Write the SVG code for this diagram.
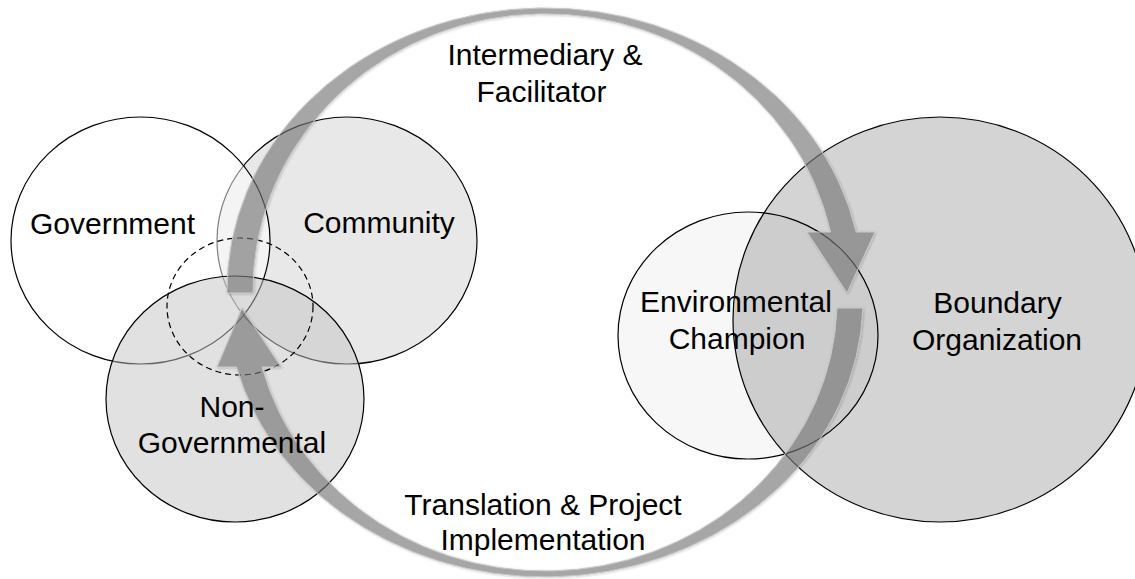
<svg xmlns="http://www.w3.org/2000/svg" width="1135" height="579" viewBox="0 0 1135 579">
  <style>
    .ring { stroke: #000; stroke-width: 1.2; }
    .dashed { fill: none; stroke: #000; stroke-width: 1.2; stroke-dasharray: 6 4; }
    .arrow { fill: #7a7a7a; fill-opacity: 0.58; stroke: #c8c8c8; stroke-width: 1; filter: url(#soft); }
    .label { font-family: "Liberation Sans", Arial, Helvetica, sans-serif; font-size: 30px; fill: #000; text-anchor: middle; }
  </style>
  <defs>
    <filter id="soft" x="-10%" y="-10%" width="120%" height="120%">
      <feDropShadow dx="0.8" dy="0.8" stdDeviation="1.2" flood-color="#000" flood-opacity="0.25"/>
    </filter>
  </defs>

  <rect width="1135" height="579" fill="#fff"/>

  <!-- left cluster: three overlapping sectors -->
  <g id="node-community">
    <ellipse class="ring" cx="347" cy="240.5" rx="130" ry="123.5" fill="#e8e8e8"/>
  </g>
  <g id="node-government">
    <ellipse class="ring" cx="140.5" cy="240.5" rx="129.5" ry="123.5" fill="#fff" fill-opacity="0.5"/>
  </g>
  <g id="node-nongovernmental">
    <ellipse class="ring" cx="235" cy="399" rx="129" ry="123" fill="#c4c4c4" fill-opacity="0.5"/>
  </g>
  <g id="node-overlap">
    <ellipse class="dashed" cx="240" cy="306.5" rx="73" ry="68.5"/>
  </g>

  <!-- right pair -->
  <g id="node-boundary">
    <ellipse class="ring" cx="940" cy="319.5" rx="207" ry="202.5" fill="#d4d4d4"/>
  </g>
  <g id="node-champion">
    <ellipse class="ring" cx="748" cy="335.5" rx="130" ry="123.5" fill="#000" fill-opacity="0.03"/>
  </g>

  <!-- curved block arrows -->
  <g id="connectors">
    <!-- upper arc: cluster to boundary organization -->
    <path id="arrow-intermediary" class="arrow"
          d="M227,293 A318,282 0 0 1 856.2,232 L875,232 L847,293 L807,232 L830.5,232 A292,276 0 0 0 253,293 Z"/>
    <!-- lower arc: boundary organization back to cluster -->
    <path id="arrow-translation" class="arrow"
          d="M862.9,308 A318,277 0 0 1 236.5,367 L217,367 L242,308 L281,367 L262.1,367 A292,271 0 0 0 836.9,308 Z"/>
  </g>

  <!-- labels -->
  <g id="labels" class="label">
    <text x="112.5" y="234">Government</text>
    <text x="379" y="233">Community</text>
    <text x="232" y="417">Non-</text>
    <text x="232" y="453">Governmental</text>
    <text x="545" y="65">Intermediary &amp;</text>
    <text x="541.5" y="102">Facilitator</text>
    <text x="736" y="312">Environmental</text>
    <text x="737" y="349">Champion</text>
    <text x="997.5" y="313">Boundary</text>
    <text x="997" y="350">Organization</text>
    <text x="543" y="515">Translation &amp; Project</text>
    <text x="543" y="550">Implementation</text>
  </g>
</svg>
